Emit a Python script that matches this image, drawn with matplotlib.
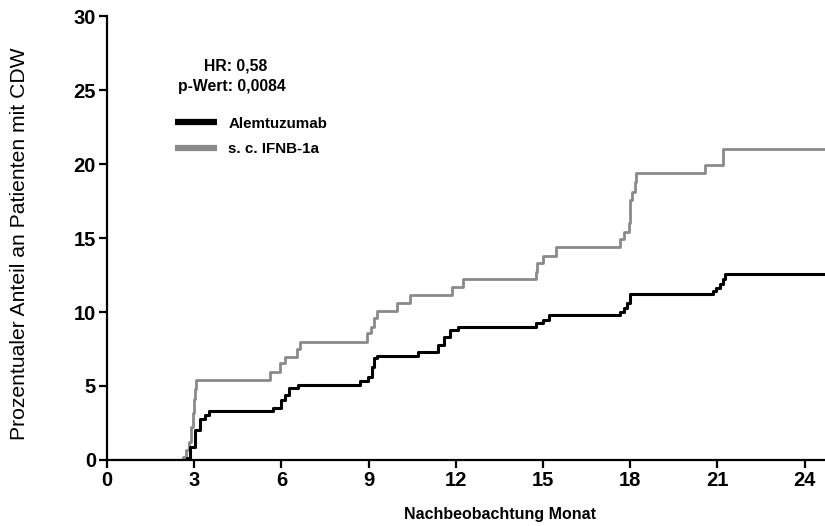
import numpy as np
import matplotlib.pyplot as plt

# step curves (month, cumulative %)
alem_t = [0, 2.74, 2.85, 3.03, 3.2, 3.37, 3.52, 5.7, 6.0, 6.12, 6.26, 6.57,
          8.7, 8.98, 9.1, 9.2, 9.3, 10.7, 11.4, 11.6, 11.8, 12.07,
          14.77, 15.0, 15.2, 17.64, 17.8, 17.9, 18.0,
          20.85, 20.96, 21.08, 21.2, 21.25, 24.7]
alem_y = [0, 0.15, 0.9, 2.0, 2.8, 3.05, 3.3, 3.5, 4.05, 4.4, 4.85, 5.1,
          5.35, 5.6, 6.3, 6.9, 7.0, 7.3, 7.8, 8.3, 8.8, 9.0,
          9.25, 9.45, 9.8, 10.0, 10.3, 10.6, 11.2,
          11.4, 11.6, 11.9, 12.2, 12.6, 12.6]

ifnb_t = [0, 2.62, 2.72, 2.83, 2.9, 2.95, 2.99, 3.03, 3.06, 5.6, 5.95, 6.12,
          6.52, 6.64, 8.94, 9.08, 9.2, 9.3, 9.96, 10.42, 11.88, 12.23,
          14.75, 14.8, 15.0, 15.46, 17.66, 17.78, 17.96, 17.98, 18.06,
          18.15, 18.21, 20.56, 21.19, 24.7]
ifnb_y = [0, 0.2, 0.7, 1.2, 2.2, 3.2, 4.1, 4.8, 5.4, 5.97, 6.53, 6.98,
          7.5, 8.0, 8.6, 9.0, 9.6, 10.1, 10.6, 11.15, 11.7, 12.2,
          12.7, 13.3, 13.8, 14.4, 14.9, 15.4, 16.0, 17.6, 18.1,
          18.8, 19.4, 19.95, 21.0, 21.0]

x_ticks = [0, 3, 6, 9, 12, 15, 18, 21, 24]
y_ticks = [0, 5, 10, 15, 20, 25, 30]

plt.rcParams['font.family'] = ['Liberation Sans', 'DejaVu Sans']

fig = plt.figure(figsize=(8.25, 5.26), dpi=100)
ax = fig.add_axes([0.1297, 0.1255, 0.8703, 0.844])

ax.plot(ifnb_t, ifnb_y, drawstyle='steps-post', color='#8a8a8a', lw=2.0,
        label='s. c. IFNB-1a', zorder=2)
ax.plot(alem_t, alem_y, drawstyle='steps-post', color='black', lw=2.2,
        label='Alemtuzumab', zorder=3)

ax.set_xlim(0, 24.7)
ax.set_ylim(0, 30)
ax.set_xticks(x_ticks)
ax.set_yticks(y_ticks)
for s in ['top', 'right']:
    ax.spines[s].set_visible(False)
for s in ['left', 'bottom']:
    ax.spines[s].set_linewidth(1.6)
ax.tick_params(width=1.6, length=6, labelsize=14.5, pad=2)
for lab in ax.get_xticklabels() + ax.get_yticklabels():
    lab.set_fontweight('bold')

fig.text(500/825, 1 - 515/526, 'Nachbeobachtung Monat', ha='center', va='center',
         fontsize=11.5, fontweight='bold')
fig.text(20/825, 1 - 244/526, 'Prozentualer Anteil an Patienten mit CDW',
         rotation=90, ha='center', va='center', fontsize=15.2)

fig.text(236/825, 1 - 66/526, 'HR: 0,58', ha='center', va='center',
         fontsize=11.3, fontweight='bold')
fig.text(232/825, 1 - 87/526, 'p-Wert: 0,0084', ha='center', va='center',
         fontsize=11.3, fontweight='bold')

h, l = ax.get_legend_handles_labels()
leg = ax.legend(h[::-1], l[::-1], loc='upper left', frameon=False,
                bbox_to_anchor=(170/825, 1 - 112/526), bbox_transform=fig.transFigure,
                handlelength=2.8, handletextpad=0.75, labelspacing=0.75,
                borderaxespad=0, borderpad=0.3,
                prop={'weight': 'bold', 'size': 10.9})
for line in leg.get_lines():
    line.set_linewidth(4.5)
    line.set_solid_capstyle('butt')

fig.savefig('out.png', dpi=100)
